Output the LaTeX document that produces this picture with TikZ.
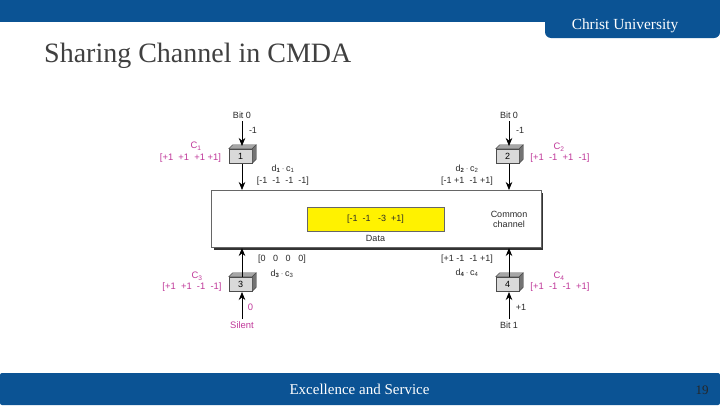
\documentclass[tikz,border=0pt]{standalone}
\usepackage{fontspec}
\setmainfont{Liberation Serif}
\newfontfamily\labelfont{Liberation Sans}
\usetikzlibrary{arrows.meta,calc}
\definecolor{barblue}{HTML}{0B5394}
\definecolor{codepink}{HTML}{C0399A}
\definecolor{boxgray}{HTML}{D9D9D9}
\definecolor{lbl}{HTML}{2A2A2A}
\tikzset{
  x=1pt,y=-1pt,
  lab/.style={font=\labelfont\fontsize{9}{10.5}\selectfont,text=lbl,inner sep=0pt,align=center},
  code/.style={font=\labelfont\fontsize{9.4}{10.5}\selectfont,text=codepink,inner sep=0pt,align=center},
  stationbox/.style={draw=black!70,line width=.5pt,fill=boxgray,minimum width=23pt,minimum height=14pt,inner sep=0pt,font=\labelfont\fontsize{9}{10}\selectfont},
  link/.style={line width=.8pt,black,-{Stealth[length=8pt,width=6.5pt]}},
  face/.style={draw=black!70,line width=.4pt,fill=#1},
}
\newcommand{\cube}[1]{%
  \fill[face=black!35] (#1.north west) -- ++(4,-4) -- ($(#1.north east)+(4,-4)$) -- (#1.north east) -- cycle;
  \fill[face=black!55] (#1.north east) -- ++(4,-4) -- ($(#1.south east)+(4,-4)$) -- (#1.south east) -- cycle;
}
\begin{document}
\begin{tikzpicture}
\useasboundingbox (0,0) rectangle (720,405);
\fill[white] (0,0) rectangle (720,405);
% header and footer
\fill[barblue] (0,0) rectangle (720,22);
\fill[barblue,rounded corners=6pt] (545,10) -- (545,38) -- (720,38) -- (720,10) -- cycle;
\node[font=\fontsize{15.4}{17}\selectfont,text=white,inner sep=0pt] (brand) at (625,26) {Christ University};
\node[font=\fontsize{28}{32}\selectfont,text=black!75,inner sep=0pt,anchor=west] (title) at (44,55.5) {Sharing Channel in CMDA};
\fill[barblue,rounded corners=2pt] (0,373) -- (720,373) -- (720,405) -- (0,405) -- cycle;
\node[font=\fontsize{15}{17}\selectfont,text=white,inner sep=0pt] (motto) at (359.5,389.5) {Excellence and Service};
\node[font=\fontsize{13}{15}\selectfont,text=black!85,inner sep=0pt] (page) at (702,390) {19};
% channel
\fill[black!80] (214,193) rectangle (543,249.5);
\node[draw=black!60,line width=.6pt,fill=white,minimum width=330pt,minimum height=57pt,inner sep=0pt] (ch) at (376,218.5) {};
\node[draw=black!60,line width=.6pt,fill=yellow,minimum width=137pt,minimum height=24pt,inner sep=0pt,lab] (sum) at (375.5,219) {[-1\ \ -1\ \ \ -3\ \ +1]};
\node[lab] (data) at (375.5,238) {Data};
\node[lab] (common) at (509,219) {Common\\[-.5pt]channel};
% stations
\node[stationbox] (s1) at (240.5,156) {1};
\node[stationbox] (s2) at (507.5,156) {2};
\node[stationbox] (s3) at (240.5,284) {3};
\node[stationbox] (s4) at (507.5,284) {4};
\cube{s1}\cube{s2}\cube{s3}\cube{s4}
% outer labels
\node[lab] (b1) at (242,115) {Bit 0};
\node[lab] (b2) at (509,115) {Bit 0};
\node[code] (b3) at (242,325) {Silent};
\node[lab] (b4) at (509,325) {Bit 1};
\coordinate (t1) at (242,146);
\coordinate (t2) at (509,146);
\coordinate (t3) at (242,292);
\coordinate (t4) at (509,292);
\coordinate (u1) at (242,164);
\coordinate (u2) at (509,164);
\coordinate (u3) at (242,277);
\coordinate (u4) at (509,277);
\coordinate (e1) at (242,190);
\coordinate (e2) at (509,190);
\coordinate (e3) at (242,248);
\coordinate (e4) at (509,248);
\draw[link] (b1) ++(0,6) -- (t1);
\draw[link] (b2) ++(0,6) -- (t2);
\draw[link] (b3) ++(0,-6) -- (t3);
\draw[link] (b4) ++(0,-6) -- (t4);
\draw[link] (u1) -- (e1);
\draw[link] (u2) -- (e2);
\draw[link] (u3) -- (e3);
\draw[link] (u4) -- (e4);
% data values
\node[lab] (v1) at (253,130) {-1};
\node[lab] (v2) at (520,130) {-1};
\node[code] (v3) at (250.5,307) {0};
\node[lab] (v4) at (521,307) {+1};
% codes
\node[code] (c1n) at (196,146) {C\textsubscript{1}};
\node[code] (c1) at (190.5,158) {[+1\ \ +1\ \ +1\ +1]};
\node[code] (c2n) at (559,147) {C\textsubscript{2}};
\node[code] (c2) at (560,158) {[+1\ \ -1\ \ +1\ \ -1]};
\node[code] (c3n) at (197,276) {C\textsubscript{3}};
\node[code] (c3) at (192,287) {[+1\ \ +1\ \ -1\ \ -1]};
\node[code] (c4n) at (559,276) {C\textsubscript{4}};
\node[code] (c4) at (560,287) {[+1\ \ -1\ \ -1\ \ +1]};
% products
\node[lab] (d1) at (283,169) {d\textsubscript{\textbf{1}}\,$\cdot$\,c\textsubscript{1}};
\node[lab] (r1) at (283,181) {[-1\ \ -1\ \ -1\ \ -1]};
\node[lab] (d2) at (467,169) {d\textsubscript{\textbf{2}}\,$\cdot$\,c\textsubscript{2}};
\node[lab] (r2) at (467,181) {[-1\ +1\ \ -1\ +1]};
\node[lab] (r3) at (282,259) {[0\ \ \ 0\ \ \ 0\ \ \ 0]};
\node[lab] (d3) at (282,274) {d\textsubscript{\textbf{3}}\,$\cdot$\,c\textsubscript{3}};
\node[lab] (r4) at (467,259) {[+1\ -1\ \ -1\ +1]};
\node[lab] (d4) at (467,273) {d\textsubscript{\textbf{4}}\,$\cdot$\,c\textsubscript{4}};
\end{tikzpicture}
\end{document}
